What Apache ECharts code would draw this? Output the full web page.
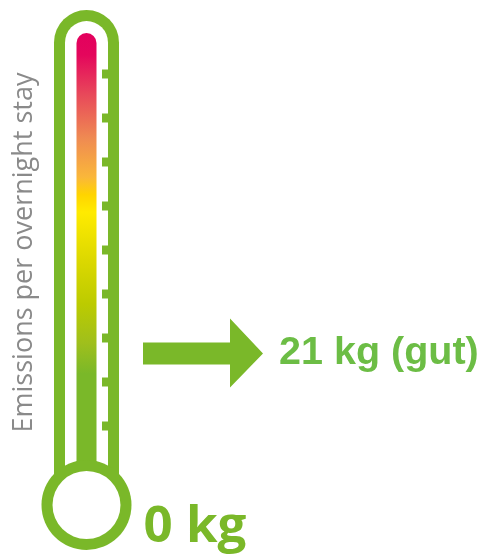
<!DOCTYPE html>
<html><head><meta charset="utf-8">
<script src="https://cdn.jsdelivr.net/npm/echarts@6/dist/echarts.min.js"></script>
<style>html,body{margin:0;padding:0;background:#fff}#c{width:482px;height:554px}</style>
</head><body><div id="c"></div>
<script>
// ---- data ----
const levelLabels = ['0 kg', '21 kg (gut)'];
const levelValues = [0, 21];
const axisTitle = 'Emissions per overnight stay';
const scaleMin = 0, scaleMax = 60;              // kg scale of the thermometer
const notchValues = [0, 1, 2, 3, 4, 5, 6, 7, 8]; // scale notches (tick positions)
const notchMin = 0, notchMax = 8;

// ---- styles ----
const GREEN = '#7ab829';
const LABEL_GREEN = '#6cbd45';
const ARROW = 'path://M0,24 L87,24 L87,0 L120,35 L87,69 L87,46 L0,46 Z';

const chart = echarts.init(document.getElementById('c'), null, {renderer: 'canvas'});

const seriesData = levelValues.map((v, i) => {
  if (v === 0) {
    return {
      value: [0, v], symbol: 'rect', symbolSize: 1, itemStyle: {color: 'rgba(0,0,0,0)', opacity: 1},
      label: {show: true, position: 'inside', offset: [-8, 0], formatter: levelLabels[i],
        fontFamily: 'Open Sans', fontWeight: 'bold', fontSize: 51, color: GREEN}
    };
  }
  return {
    value: [0, v], symbol: ARROW, symbolSize: [120, 69], itemStyle: {color: GREEN, opacity: 1},
    label: {show: true, position: 'right', distance: 16, formatter: levelLabels[i],
      fontFamily: 'Liberation Sans', fontWeight: 'bold', fontSize: 39.5, color: LABEL_GREEN}
  };
});

chart.setOption({
  animation: false,
  backgroundColor: '#fff',
  grid: [
    {left: 143, width: 120, top: 30, bottom: 27},
    {left: 60, width: 48, top: 74, height: 352}
  ],
  xAxis: [
    {gridIndex: 0, type: 'category', data: ['level'], show: false},
    {gridIndex: 1, type: 'value', min: 0, max: 1, show: false}
  ],
  yAxis: [
    {gridIndex: 0, type: 'value', min: scaleMin, max: scaleMax, show: false},
    {gridIndex: 1, type: 'value', min: notchMin, max: notchMax, show: false}
  ],
  graphic: [
    {type: 'rect', z: 1, shape: {x: 54, y: 10, width: 65, height: 465, r: [32.5, 32.5, 0, 0]}, style: {fill: GREEN}},
    {type: 'rect', z: 2, shape: {x: 65, y: 21, width: 43, height: 454, r: [21.5, 21.5, 0, 0]}, style: {fill: '#fff'}},
    {type: 'rect', z: 3, shape: {x: 76.5, y: 33, width: 20, height: 437, r: [10, 10, 0, 0]},
      style: {fill: new echarts.graphic.LinearGradient(0, 0, 0, 1, [
        {offset: 0, color: '#e3005d'},
        {offset: 0.05, color: '#e4065c'},
        {offset: 0.14, color: '#e8485a'},
        {offset: 0.24, color: '#ef8a52'},
        {offset: 0.33, color: '#fab73a'},
        {offset: 0.37, color: '#ffd400'},
        {offset: 0.41, color: '#ffeb00'},
        {offset: 0.52, color: '#dcd800'},
        {offset: 0.62, color: '#bccb00'},
        {offset: 0.71, color: '#9fbf1c'},
        {offset: 0.78, color: GREEN},
        {offset: 1, color: GREEN}
      ])}},
    {type: 'circle', z: 4, shape: {cx: 86.5, cy: 505, r: 45}, style: {fill: GREEN}},
    {type: 'circle', z: 5, shape: {cx: 86.5, cy: 505, r: 34}, style: {fill: '#fff'}},
    {type: 'text', z: 5, x: 24, y: 252.5, rotation: Math.PI / 2,
      style: {text: axisTitle, fontFamily: 'Open Sans', fontSize: 27, fill: '#8a8a8a',
        align: 'center', verticalAlign: 'middle', textAlign: 'center', textVerticalAlign: 'middle'}}
  ],
  series: [{
    type: 'scatter', xAxisIndex: 0, yAxisIndex: 0, z: 6,
    data: seriesData
  }, {
    type: 'scatter', xAxisIndex: 1, yAxisIndex: 1, z: 7, silent: true,
    symbol: 'rect', symbolSize: [6, 9], symbolOffset: [-3, 0],
    itemStyle: {color: GREEN, opacity: 1},
    data: notchValues.map(v => [1, v])
  }]
});
</script></body></html>
